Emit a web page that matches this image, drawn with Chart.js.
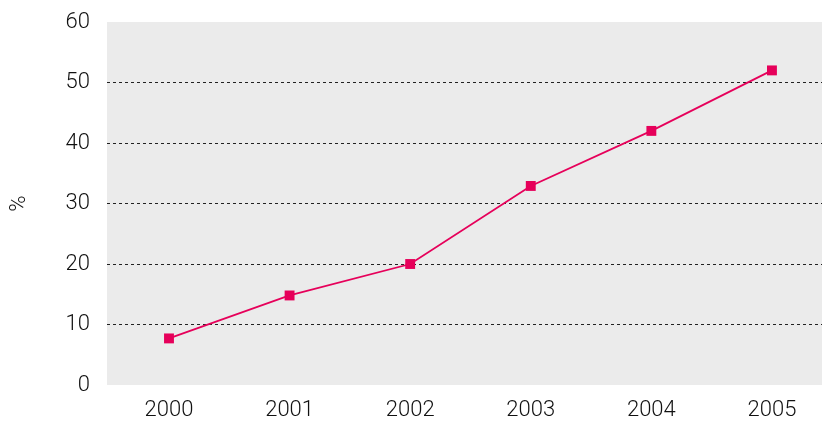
<!DOCTYPE html>
<html>
<head>
<meta charset="utf-8">
<script src="https://cdn.jsdelivr.net/npm/chart.js@4"></script>
<style>
html,body{margin:0;padding:0;background:#fff;}
#wrap{width:822px;height:423px;}
</style>
</head>
<body>
<div id="wrap"><canvas id="c" width="822" height="423"></canvas></div>
<script>
const years = ["2000","2001","2002","2003","2004","2005"];
const values = [7.7, 14.8, 20, 32.9, 42, 52];
const yTicks = [0,10,20,30,40,50,60];

const bgPlugin = {
  id:'bg',
  beforeDraw(chart){
    const {ctx, chartArea:a} = chart;
    ctx.save();
    ctx.fillStyle = '#ebebeb';
    ctx.fillRect(a.left, a.top, a.right-a.left, a.bottom-a.top);
    ctx.restore();
  }
};

function zeroPad(s){ s.paddingTop = 0; s.paddingBottom = 0; s.paddingLeft = 0; s.paddingRight = 0; }

const tickFont = {family:'Roboto', size:22, weight:300};

new Chart(document.getElementById('c'), {
  type:'line',
  data:{
    datasets:[{
      data: values.map((v,i)=>({x:i, y:v})),
      borderColor:'#e6005a',
      backgroundColor:'#e6005a',
      borderWidth:1.8,
      pointStyle:'rect',
      pointRadius:7,
      pointHoverRadius:7,
      pointBorderWidth:0,
      tension:0
    }]
  },
  options:{
    responsive:false,
    animation:false,
    devicePixelRatio:1,
    layout:{autoPadding:false, padding:{top:22,right:0,bottom:0,left:0}},
    plugins:{legend:{display:false}, tooltip:{enabled:false}},
    scales:{
      x:{
        type:'linear',
        min:-0.514, max:5.415,
        afterBuildTicks(s){ s.ticks = years.map((y,i)=>({value:i})); },
        afterFit(s){ s.height = 38; zeroPad(s); },
        grid:{display:false, drawTicks:false},
        border:{display:false},
        ticks:{
          padding:12,
          color:'#111',
          font:tickFont,
          callback:(v)=>years[v]
        }
      },
      y:{
        min:0, max:60,
        afterBuildTicks(s){ s.ticks = yTicks.map(v=>({value:v})); },
        afterFit(s){ s.width = 107; zeroPad(s); },
        grid:{
          drawTicks:false,
          color:(ctx)=> (ctx.tick && (ctx.tick.value===0 || ctx.tick.value===60)) ? 'rgba(0,0,0,0)' : '#222',
          lineWidth:1
        },
        border:{display:false, dash:[3,3]},
        ticks:{
          padding:17,
          color:'#111',
          font:tickFont
        },
        title:{
          display:true,
          text:'%',
          color:'#111',
          font:tickFont,
          padding:{top:6,bottom:0}
        }
      }
    }
  },
  plugins:[bgPlugin]
});
</script>
</body>
</html>
